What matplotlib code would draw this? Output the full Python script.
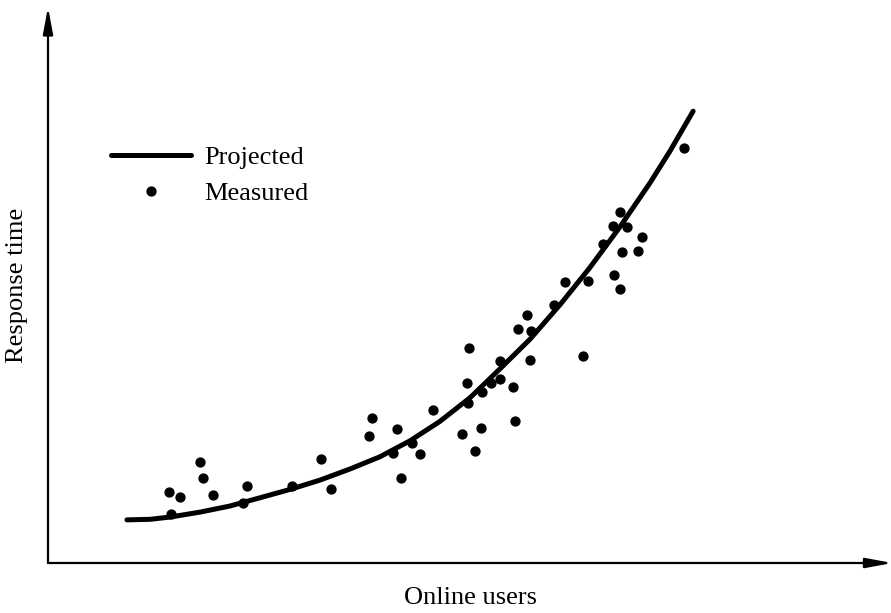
#!/usr/bin/env python3
import numpy as np
import matplotlib
matplotlib.use('Agg')
import matplotlib.pyplot as plt

## Projected response time curve (users, seconds)
projected_users = [18.8, 24.3, 29.0, 36.2, 43.3, 50.5, 57.6, 64.8, 71.9, 79.0,
                   86.2, 93.3, 100.5, 107.6, 114.8, 121.9, 129.0, 136.2,
                   143.3, 148.1, 153.6]
projected_time = [0.78, 0.79, 0.83, 0.92, 1.03, 1.18, 1.33, 1.50, 1.70, 1.92,
                  2.21, 2.56, 2.99, 3.51, 4.05, 4.67, 5.34, 6.08,
                  6.87, 7.45, 8.17]

## Measured response times
measured_users = [28.8, 31.4, 36.2, 36.9, 39.3, 29.3, 47.4, 46.4, 58.1, 65.0,
                  67.4, 77.1, 76.4, 83.1, 82.1, 84.0, 86.7, 88.6, 91.7, 98.6,
                  103.1, 101.7, 111.2, 100.2, 99.8, 100.0, 103.3, 105.5, 107.6,
                  107.6, 110.7, 114.8, 111.9, 114.0, 115.0, 120.5, 123.1, 128.6,
                  134.8, 136.2, 127.4, 151.4, 136.2, 134.5, 137.9, 132.1, 141.4,
                  136.7, 140.5]
measured_time = [1.28, 1.19, 1.83, 1.54, 1.23, 0.89, 1.39, 1.08, 1.39, 1.88,
                 1.34, 2.62, 2.30, 2.42, 1.99, 1.54, 2.17, 1.97, 2.77, 2.33,
                 2.44, 2.03, 2.57, 3.89, 3.25, 2.89, 3.09, 3.25, 3.33,
                 3.65, 3.18, 3.67, 4.23, 4.48, 4.20, 4.67, 5.08, 5.10,
                 5.21, 4.95, 3.74, 7.50, 6.35, 6.09, 6.08, 5.77, 5.90,
                 5.62, 5.64]

plt.rcParams['font.family'] = ['Liberation Serif', 'DejaVu Serif']

W, H = 891, 613
fig = plt.figure(figsize=(W/100, H/100), dpi=100)
# axes box in pixels: origin at (48, 563), top at 10, right at 888
ax = fig.add_axes([48/W, (H - 563)/H, 840/W, 553/H])
ax.set_xlim(0, 200)
ax.set_ylim(0, 10)
for s in ax.spines.values():
    s.set_visible(False)
ax.set_xticks([])
ax.set_yticks([])

## Axes drawn as arrows
arrow = dict(arrowstyle='-|>,head_length=1.6,head_width=0.3', lw=1.6,
             color='black', shrinkA=0, shrinkB=0, mutation_scale=10)
ax.annotate('', xy=(0, 1.005), xytext=(0, 0), xycoords='axes fraction',
            arrowprops=arrow, annotation_clip=False)
ax.annotate('', xy=(1.005, 0), xytext=(0, 0), xycoords='axes fraction',
            arrowprops=arrow, annotation_clip=False)

ax.plot(projected_users, projected_time, color='black', lw=3.6,
        solid_capstyle='round', solid_joinstyle='round', label='Projected',
        clip_on=False)
ax.plot(measured_users, measured_time, 'o', color='black', ms=6.4,
        mec='black', ls='none', label='Measured', clip_on=False)

leg = ax.legend(loc='upper left', bbox_to_anchor=(111/W, 1 - 146/H),
                bbox_transform=fig.transFigure, frameon=False,
                fontsize=19, handlelength=3.05, handletextpad=0.5,
                labelspacing=0.45, borderpad=0, borderaxespad=0)

fig.text(470/W, 1 - 598/H, 'Online users', ha='center', va='center',
         fontsize=19)
fig.text(17/W, 1 - 285/H, 'Response time', ha='center', va='center',
         rotation=90, fontsize=19)

fig.savefig('out.png', dpi=100)
